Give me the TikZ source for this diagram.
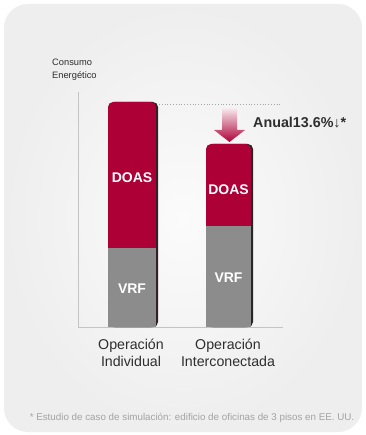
\documentclass[tikz,border=0pt]{standalone}
\usepackage{fontspec}
\setmainfont{Liberation Sans}
\definecolor{doasred}{HTML}{AD0037}
\definecolor{vrfgray}{HTML}{8C8C8C}
\definecolor{barshadow}{HTML}{262626}
\definecolor{axisgray}{HTML}{C4C4C4}
\definecolor{labelgray}{HTML}{2E2E2E}
\definecolor{notegray}{HTML}{A3A3A3}
\definecolor{panelout}{HTML}{EEEEEE}
\definecolor{panelin}{HTML}{FBFBFB}
\begin{document}
\begin{tikzpicture}[
        x=1pt, y=-1pt,
        bar label/.style={
            text=white,
            font=\bfseries\fontsize{14}{14}\selectfont,
            inner sep=0pt},
        axis text/.style={
            align=center,
            text=labelgray,
            font=\fontsize{14.2}{17}\selectfont,
            inner sep=0pt}]
        \useasboundingbox (0,0) rectangle (365,435);
        \fill[white] (0,0) rectangle (365,435);
        \shade[inner color=panelin, outer color=panelout, rounded corners=24pt]
            (4,4) rectangle (362,432);

        % axes
        \coordinate (ytop) at (78,92);
        \coordinate (origin) at (78,327);
        \coordinate (xend) at (283,327);
        \draw[axisgray, line width=0.8pt] (ytop) -- (origin) -- (xend);
        \node[anchor=west, align=left, text=labelgray, inner sep=0pt,
            font=\fontsize{9.3}{13}\selectfont] (ylabel) at (52,70) {Consumo\\Energético};

        % bar: individual
        \fill[barshadow, rounded corners=5pt] (110,102) rectangle (158,327);
        \fill[doasred, rounded corners=5pt] (108,102) rectangle (156,327);
        \fill[vrfgray] (108,248) rectangle (156,327);
        \node[bar label] (doas1) at (132,178) {DOAS};
        \node[bar label] (vrf1) at (132,289) {VRF};

        % bar: interconnected
        \fill[barshadow, rounded corners=5pt] (208,144) rectangle (253,327);
        \fill[doasred, rounded corners=5pt] (206,144) rectangle (251,327);
        \fill[vrfgray] (206,226) rectangle (251,327);
        \node[bar label] (doas2) at (228.5,190) {DOAS};
        \node[bar label] (vrf2) at (228.5,278) {VRF};

        % saving
        \coordinate (top1) at (159,104);
        \coordinate (dotend) at (282,104);
        \draw[gray!70, dotted, line width=0.8pt] (top1) -- (dotend);
        \shade[top color=doasred!8!white, bottom color=doasred]
            (222,108) -- (237,108) -- (237,130) -- (245,130) -- (229.5,142)
            -- (214,130) -- (222,130) -- cycle;
        \node[anchor=west, inner sep=0pt, text=labelgray,
            font=\bfseries\fontsize{14.3}{15}\selectfont] (saving) at (253,123) {Anual13.6\%↓*};

        % categories
        \node[axis text] (opind) at (131,352.5) {Operación\\Individual};
        \node[axis text] (opint) at (228,352.5) {Operación\\Interconectada};

        \node[text=notegray, inner sep=0pt, font=\fontsize{9.8}{11}\selectfont] (note)
            at (192,418) {* Estudio de caso de simulación: edificio de oficinas de 3 pisos en EE. UU.};
    \end{tikzpicture}
\end{document}
